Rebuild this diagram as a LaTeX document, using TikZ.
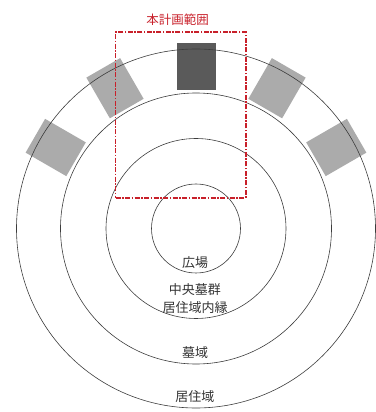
\documentclass[tikz,border=0pt]{standalone}
\usepackage{fontspec}
\newfontfamily\jpfont{Noto Sans CJK JP}
\usetikzlibrary{positioning}

\definecolor{ringgray}{HTML}{3C3C3C}
\definecolor{tombgray}{HTML}{ABABAB}
\definecolor{tombdark}{HTML}{5A5A5A}
\definecolor{planred}{HTML}{C8202A}

\begin{document}
\begin{tikzpicture}[x=1pt,y=1pt,
    ring/.style={circle,draw=ringgray,line width=0.6pt,inner sep=0pt},
    tomb/.style={rectangle,fill=tombgray,inner sep=0pt,minimum width=39pt,minimum height=47pt},
    label/.style={font=\jpfont\fontsize{13}{18}\selectfont,text=black!80,align=center,inner sep=1pt},
    plan/.style={rectangle,draw=planred,line width=1.6pt,
      dash pattern=on 5pt off 1.5pt on 1.5pt off 1.5pt,inner sep=0pt}]
    \useasboundingbox (-196,-183.5) rectangle (179,228.5);

    % graves along the residential ring
    \node[tomb,fill=tombdark]  (t0)  at (90:162)  {};
    \node[tomb,rotate=-30]     (t1)  at (60:162)  {};
    \node[tomb,rotate=-60]     (t2)  at (30:162)  {};
    \node[tomb,rotate=30]      (t3)  at (120:162) {};
    \node[tomb,rotate=60]      (t4)  at (150:162) {};

    % concentric zones
    \node[ring,minimum size=89pt]  (plaza)  at (0,0) {};
    \node[ring,minimum size=180pt] (inner)  at (0,0) {};
    \node[ring,minimum size=271pt] (grave)  at (0,0) {};
    \node[ring,minimum size=359pt] (living) at (0,0) {};

    \node[label]  (lplaza)  at (-1,-34.5)  {広場};
    \node[label]  (linner)  at (-1,-70.5)  {中央墓群\\居住域内縁};
    \node[label]  (lgrave)  at (-1,-124.5) {墓域};
    \node[label]  (lliving) at (-1,-168.5) {居住域};

    % plan area
    \node[plan,minimum width=130pt,minimum height=165.7pt] (area) at (-15.3,113.35) {};
    \node[label,text=planred,font=\jpfont\fontsize{12.5}{15}\selectfont]
      (title) [above=5pt of area.north,xshift=-3pt] {本計画範囲};
\end{tikzpicture}
\end{document}
